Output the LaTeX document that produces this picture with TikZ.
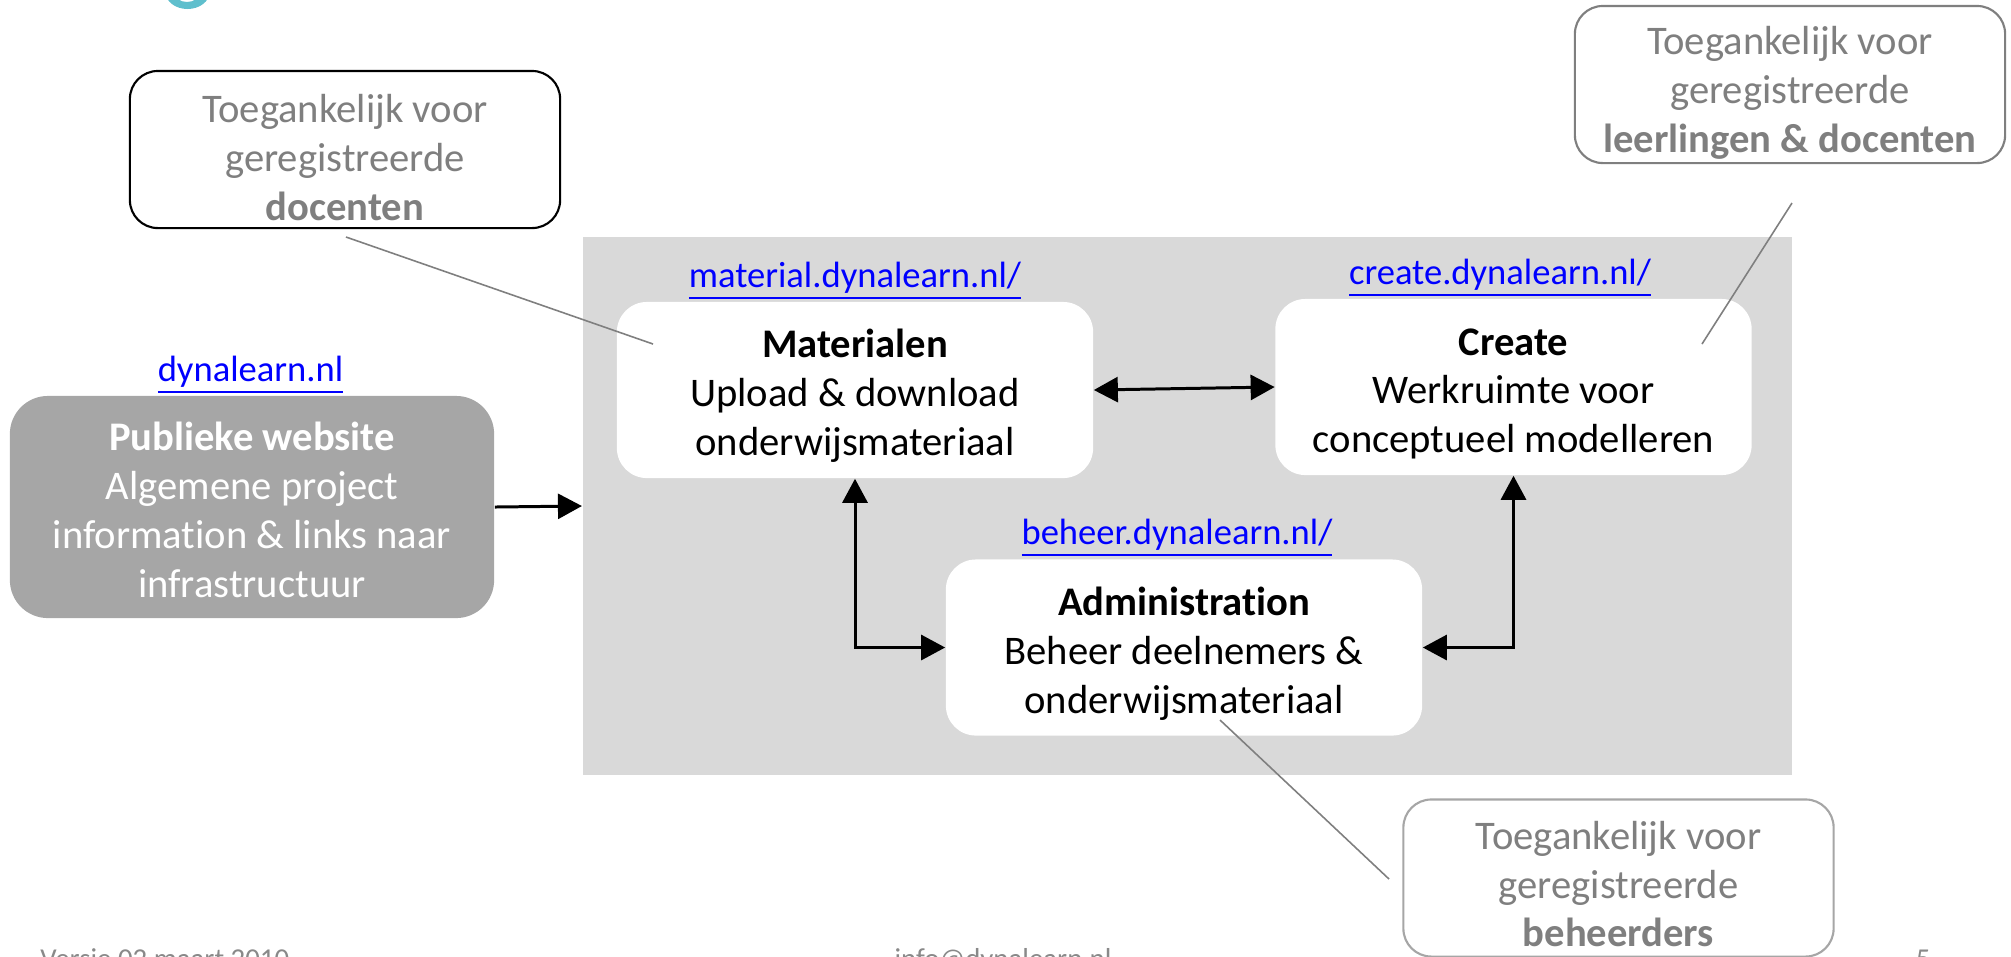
\documentclass[tikz,border=0pt]{standalone}
\usepackage{fontspec}
\setmainfont{Carlito}[Ligatures=NoCommon]
\usetikzlibrary{arrows.meta}

\definecolor{bggray}{HTML}{D9D9D9}
\definecolor{pubgray}{HTML}{A6A6A6}
\definecolor{notegray}{HTML}{7F7F7F}
\definecolor{lightborder}{HTML}{A6A6A6}
\definecolor{footgray}{HTML}{898989}
\definecolor{linkblue}{HTML}{0000FF}
\definecolor{logoteal}{HTML}{5FBFCD}

% struts that push the first line down a bit
\newcommand{\pubstrut}{\rule{0pt}{9.8pt}}
\newcommand{\sitestrut}{\rule{0pt}{11.5pt}}
\newcommand{\notestrut}{\rule{0pt}{12.7pt}}

\tikzset{
  >={Triangle[length=0.24cm,width=0.25cm]},
  body/.style={font=\fontsize{11.55}{13.9}\selectfont},
  site/.style={body, fill=white, rounded corners=0.3cm, align=center,
    minimum width=4.76cm, minimum height=1.76cm, inner sep=0pt},
  pubsite/.style={site, fill=pubgray, text=white, rounded corners=0.38cm,
    minimum width=4.84cm, minimum height=2.22cm},
  note/.style={body, draw, line width=0.6pt, fill=white, text=notegray,
    rounded corners=0.28cm, align=center, minimum width=4.3cm,
    minimum height=1.57cm, inner sep=0pt},
  link/.style={text=linkblue, anchor=base, font=\fontsize{10.4}{12.5}\selectfont},
  conn/.style={line width=0.85pt},
  leader/.style={draw=notegray, line width=0.45pt},
  footer/.style={text=footgray, font=\fontsize{8.2}{9.8}\selectfont}
}

\begin{document}
\begin{tikzpicture}[x=0.01cm,y=-0.01cm]

      \useasboundingbox (0,0) rectangle (2011,956);

      % Logo rest
      \fill[logoteal, even odd rule] (187.5,-8) ellipse [x radius=22, y radius=17]
        (187,-8) ellipse [x radius=13, y radius=10];

      % Background
      \node[fill=bggray, minimum width=12.09cm, minimum height=5.38cm, inner sep=0pt] (infra) at (1187.5,506) {};

      % Sites
      \node[pubsite] (pub) at (252,507) {\pubstrut\textbf{Publieke website}\\Algemene project\\information \& links naar\\infrastructuur};
      \node[site] (mat) at (855,390) {\sitestrut\textbf{Materialen}\\Upload \& download\\onderwijsmateriaal};
      \node[site] (create) at (1513.5,387) {\sitestrut\textbf{Create}\\Werkruimte voor\\conceptueel modelleren};
      \node[site] (admin) at (1184,647.5) {\sitestrut\textbf{Administration}\\Beheer deelnemers \&\\onderwijsmateriaal};

      % Links
      \node[link] (publink) at (250.5,381) {\underline{dynalearn.nl}};
      \node[link] (matlink) at (855,287) {\underline{material.dynalearn.nl/}};
      \node[link] (createlink) at (1500,284) {\underline{create.dynalearn.nl/}};
      \node[link] (adminlink) at (1177,544) {\underline{beheer.dynalearn.nl/}};

      % Connections
      \draw[conn,->] (pub.east) -- (infra.west);
      \draw[conn,<->] (mat.east) -- (create.west);
      \draw[conn,<->] (mat.south) |- (admin.west);
      \draw[conn,<->] (create.south) |- (admin.east);

      % Notes
      \node[note, draw=black] (docnote) at (345,149.5) {\notestrut Toegankelijk voor\\geregistreerde\\\textbf{docenten}};
      \node[note, draw=notegray] (leernote) at (1790,84.5) {\notestrut Toegankelijk voor\\geregistreerde\\\textbf{leerlingen \& docenten}};
      \node[note, draw=lightborder] (beheernote) at (1618.5,878) {\sitestrut Toegankelijk voor\\geregistreerde\\\textbf{beheerders}};

      % Pointers
      \coordinate (docfrom) at (346,237);
      \coordinate (docto) at (653,344);
      \coordinate (leerfrom) at (1792,203);
      \coordinate (leerto) at (1702,344);
      \coordinate (beheerfrom) at (1389,879);
      \coordinate (beheerto) at (1220,720);
      \draw[leader] (docfrom) -- (docto);
      \draw[leader] (leerfrom) -- (leerto);
      \draw[leader] (beheerfrom) -- (beheerto);

      % Footer
      \node[footer, anchor=base west] (version) at (28,968) {Versie 02 maart 2010};
      \node[footer, anchor=base] (mail) at (1003,968) {info@dynalearn.nl};
      \node[footer, anchor=base east] (page) at (1943,968) {5};

\end{tikzpicture}
\end{document}
